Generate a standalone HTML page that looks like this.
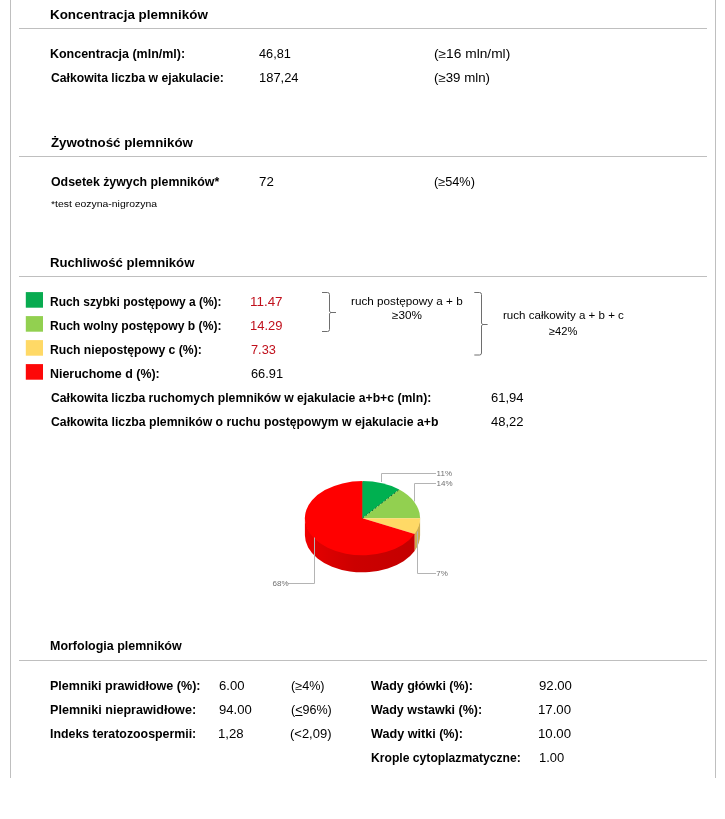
<!DOCTYPE html>
<html lang="pl"><head><meta charset="utf-8"><title>Badanie nasienia</title>
<style>
html,body{margin:0;padding:0;background:#fff}
body{width:725px;height:819px;position:relative;overflow:hidden;font-family:"Liberation Sans",sans-serif}
.t{position:absolute;white-space:nowrap;line-height:16px;transform-origin:0 0;color:#000}
.b{font-weight:700}
.hr{position:absolute;left:19px;width:688px;height:1px;background:#bfbfbf}
.vl{position:absolute;top:0;width:1px;height:778px;background:#bfbfbf}
.chart{position:absolute;left:0;top:0}
</style></head><body>
<div class="vl" style="left:10px"></div><div class="vl" style="left:715px"></div>
<div class="hr" style="top:28px"></div>
<div class="hr" style="top:156px"></div>
<div class="hr" style="top:276px"></div>
<div class="hr" style="top:660px"></div>
<svg class="chart" width="725" height="819" viewBox="0 0 725 819">
<defs><linearGradient id="rs" x1="0" y1="0" x2="1" y2="0"><stop offset="0" stop-color="#f20000"/><stop offset="0.12" stop-color="#e00000"/><stop offset="0.45" stop-color="#cc0000"/><stop offset="1" stop-color="#c40000"/></linearGradient></defs>
<rect x="25.8" y="292.1" width="17.2" height="15.6" fill="#08ab50"/>
<rect x="25.8" y="316.1" width="17.2" height="15.6" fill="#92d050"/>
<rect x="25.8" y="340.1" width="17.2" height="15.6" fill="#ffd966"/>
<rect x="25.8" y="364.1" width="17.2" height="15.6" fill="#fd0808"/>
<path d="M420.10,517.00 A57.6,37.1 0 0 1 414.62,532.80 L414.62,551.00 A57.6,37.1 0 0 0 420.10,535.20 Z" fill="#ccad52"/>
<path d="M414.62,532.80 A57.6,37.1 0 0 1 304.90,517.00 L304.90,535.20 A57.6,37.1 0 0 0 414.62,551.00 Z" fill="url(#rs)"/>
<path d="M362.5,518.2 L362.50,481.10 A57.6,37.1 0 0 1 399.22,489.61 Z" fill="#00b050"/>
<path d="M362.5,518.2 L399.22,489.61 A57.6,37.1 0 0 1 420.10,518.20 Z" fill="#92d050"/>
<path d="M362.5,518.2 L420.10,518.20 A57.6,37.1 0 0 1 414.62,534.00 Z" fill="#ffd966"/>
<path d="M362.5,518.2 L414.62,534.00 A57.6,37.1 0 1 1 362.50,481.10 Z" fill="#ff0000"/>
<path d="M362.5,518.2 L399.22,489.61" stroke="#064a24" stroke-width="0.9" stroke-dasharray="1.6,2.4" fill="none"/>
<path d="M362.5,482.1 V518.2" stroke="#3f7f3a" stroke-width="0.8" fill="none"/>
<g fill="none" stroke="#b4b4b4" stroke-width="1">
<path d="M381.5,482 V473.5 H436"/>
<path d="M414.5,501.5 V483.5 H436"/>
<path d="M417.5,531.5 V573.5 H436"/>
<path d="M314.5,537.5 V583.5 H288"/>
</g>
<g style="font-family:'Liberation Sans',sans-serif;font-size:16px" fill="#707070">
<text transform="translate(436.6,476.2) scale(0.5)">11%</text>
<text transform="translate(436.6,486.4) scale(0.5)">14%</text>
<text transform="translate(436.3,576.0) scale(0.5)">7%</text>
<text transform="translate(272.5,585.8) scale(0.5)">68%</text>
</g>
<g fill="none" stroke="#6e6e6e" stroke-width="1">
<path d="M322,292.5 H327.5 Q329.5,292.5 329.5,294.5 V311.5 L331.0,312.5 H336 M331.0,312.5 L329.5,313.5 V329.5 Q329.5,331.5 327.5,331.5 H322"/>
<path d="M474.3,292.5 H479.5 Q481.5,292.5 481.5,294.5 V323.5 L483.0,324.5 H487.6 M483.0,324.5 L481.5,325.5 V353.0 Q481.5,355.0 479.5,355.0 H474.3"/>
</g>
</svg>
<section>
<span class="t b" style="left:49.90px;top:7.00px;font-size:13.2px;transform:scaleX(1.0159)">Koncentracja plemników</span>
<span class="t b" style="left:50.26px;top:46.00px;font-size:12.0px;transform:scaleX(1.0392)">Koncentracja (mln/ml):</span>
<span class="t" style="left:259.28px;top:46.00px;font-size:12.0px;transform:scaleX(1.0612)">46,81</span>
<span class="t" style="left:433.90px;top:46.00px;font-size:12.0px;transform:scaleX(1.1444)">(≥16 mln/ml)</span>
<span class="t b" style="left:50.81px;top:70.00px;font-size:12.0px;transform:scaleX(1.0162)">Całkowita liczba w ejakulacie:</span>
<span class="t" style="left:258.50px;top:70.00px;font-size:12.0px;transform:scaleX(1.0777)">187,24</span>
<span class="t" style="left:434.07px;top:70.00px;font-size:12.0px;transform:scaleX(1.1069)">(≥39 mln)</span>
</section><section>
<span class="t b" style="left:51.09px;top:135.00px;font-size:13.2px;transform:scaleX(1.0083)">Żywotność plemników</span>
<span class="t b" style="left:50.79px;top:174.00px;font-size:12.0px;transform:scaleX(1.0294)">Odsetek żywych plemników*</span>
<span class="t" style="left:258.61px;top:174.00px;font-size:12.0px;transform:scaleX(1.1063)">72</span>
<span class="t" style="left:434.28px;top:174.00px;font-size:12.0px;transform:scaleX(1.0588)">(≥54%)</span>
<span class="t" style="left:50.66px;top:195.50px;font-size:9.6px;transform:scaleX(1.0859)">*test eozyna-nigrozyna</span>
</section><section>
<span class="t b" style="left:49.90px;top:255.00px;font-size:13.2px;transform:scaleX(0.9948)">Ruchliwość plemników</span>
<span class="t b" style="left:50.32px;top:294.00px;font-size:12.0px;transform:scaleX(0.9970)">Ruch szybki postępowy a (%):</span>
<span class="t" style="left:250.32px;top:294.00px;font-size:12.0px;transform:scaleX(1.1173);color:#c0101c">11.47</span>
<span class="t b" style="left:50.31px;top:318.00px;font-size:12.0px;transform:scaleX(1.0087)">Ruch wolny postępowy b (%):</span>
<span class="t" style="left:250.34px;top:318.00px;font-size:12.0px;transform:scaleX(1.0827);color:#c0101c">14.29</span>
<span class="t b" style="left:50.30px;top:342.00px;font-size:12.0px;transform:scaleX(1.0162)">Ruch niepostępowy c (%):</span>
<span class="t" style="left:251.20px;top:342.00px;font-size:12.0px;transform:scaleX(1.0658);color:#c0101c">7.33</span>
<span class="t b" style="left:50.27px;top:366.00px;font-size:12.0px;transform:scaleX(1.0348)">Nieruchome d (%):</span>
<span class="t" style="left:251.16px;top:366.00px;font-size:12.0px;transform:scaleX(1.0671)">66.91</span>
<span class="t b" style="left:50.80px;top:390.00px;font-size:12.0px;transform:scaleX(1.0165)">Całkowita liczba ruchomych plemników w ejakulacie a+b+c (mln):</span>
<span class="t" style="left:490.52px;top:390.00px;font-size:12.0px;transform:scaleX(1.0831)">61,94</span>
<span class="t b" style="left:50.80px;top:414.00px;font-size:12.0px;transform:scaleX(1.0201)">Całkowita liczba plemników o ruchu postępowym w ejakulacie a+b</span>
<span class="t" style="left:491.27px;top:414.00px;font-size:12.0px;transform:scaleX(1.0829)">48,22</span>
<span class="t" style="left:350.92px;top:293.00px;font-size:10.8px;transform:scaleX(1.0848)">ruch postępowy a + b</span>
<span class="t" style="left:392.17px;top:307.00px;font-size:10.8px;transform:scaleX(1.0855)">≥30%</span>
<span class="t" style="left:503.24px;top:307.00px;font-size:10.8px;transform:scaleX(1.0717)">ruch całkowity a + b + c</span>
<span class="t" style="left:549.18px;top:323.00px;font-size:10.8px;transform:scaleX(1.0324)">≥42%</span>
</section><section>
<span class="t b" style="left:50.25px;top:638.00px;font-size:12.0px;transform:scaleX(1.0392)">Morfologia plemników</span>
<span class="t b" style="left:50.25px;top:678.00px;font-size:12.0px;transform:scaleX(1.0448)">Plemniki prawidłowe (%):</span>
<span class="t" style="left:218.54px;top:678.00px;font-size:12.0px;transform:scaleX(1.0899)">6.00</span>
<span class="t" style="left:290.60px;top:678.00px;font-size:12.0px;transform:scaleX(1.0514)">(≥4%)</span>
<span class="t b" style="left:371.18px;top:678.00px;font-size:12.0px;transform:scaleX(1.0369)">Wady główki (%):</span>
<span class="t" style="left:538.55px;top:678.00px;font-size:12.0px;transform:scaleX(1.0970)">92.00</span>
<span class="t b" style="left:50.25px;top:702.00px;font-size:12.0px;transform:scaleX(1.0481)">Plemniki nieprawidłowe:</span>
<span class="t" style="left:218.55px;top:702.00px;font-size:12.0px;transform:scaleX(1.0899)">94.00</span>
<span class="t" style="left:290.59px;top:702.00px;font-size:12.0px;transform:scaleX(1.0445)">(<u>&lt;</u>96%)</span>
<span class="t b" style="left:371.18px;top:702.00px;font-size:12.0px;transform:scaleX(1.0390)">Wady wstawki (%):</span>
<span class="t" style="left:537.88px;top:702.00px;font-size:12.0px;transform:scaleX(1.1014)">17.00</span>
<span class="t b" style="left:50.26px;top:726.00px;font-size:12.0px;transform:scaleX(1.0293)">Indeks teratozoospermii:</span>
<span class="t" style="left:218.48px;top:726.00px;font-size:12.0px;transform:scaleX(1.0967)">1,28</span>
<span class="t" style="left:290.40px;top:726.00px;font-size:12.0px;transform:scaleX(1.0814)">(&lt;2,09)</span>
<span class="t b" style="left:371.18px;top:726.00px;font-size:12.0px;transform:scaleX(1.0500)">Wady witki (%):</span>
<span class="t" style="left:537.88px;top:726.00px;font-size:12.0px;transform:scaleX(1.1014)">10.00</span>
<span class="t b" style="left:370.90px;top:750.00px;font-size:12.0px;transform:scaleX(1.0121)">Krople cytoplazmatyczne:</span>
<span class="t" style="left:538.50px;top:750.00px;font-size:12.0px;transform:scaleX(1.0797)">1.00</span>
</section>
</body></html>
